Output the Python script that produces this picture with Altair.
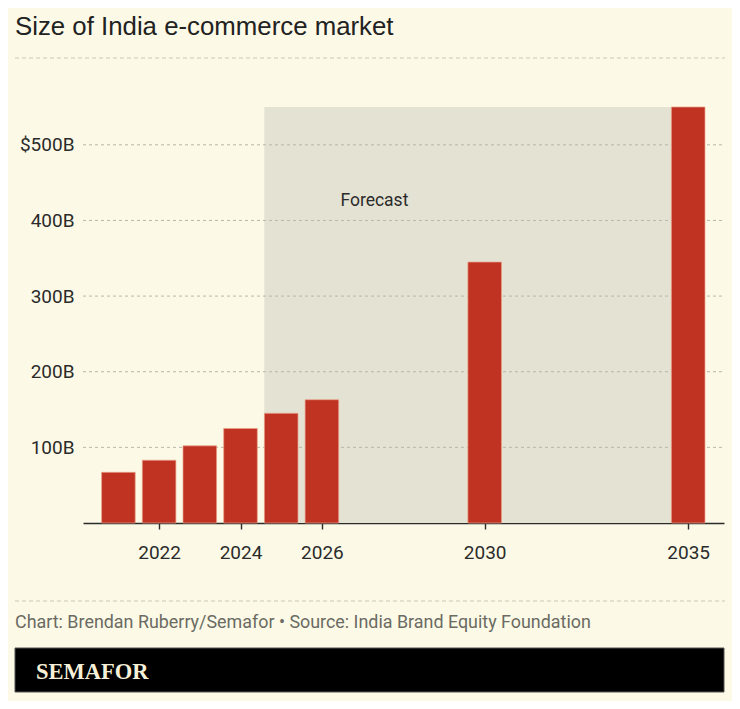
import altair as alt
import pandas as pd

# ---- data ----
years = [2021, 2022, 2023, 2024, 2025, 2026, 2030, 2035]
values = [67, 83, 102, 125, 145, 163, 345, 550]  # billions USD
tick_years = [2022, 2024, 2026, 2030, 2035]
grid_values = [100, 200, 300, 400, 500]
forecast_start = 2024.585
forecast_end = 2034.585
forecast_top = 550

title_text = "Size of India e-commerce market"
source_text = "Chart: Brendan Ruberry/Semafor \u2022 Source: India Brand Equity Foundation"
brand_text = "SEMAFOR"
forecast_text = "Forecast"

BG = "#FCFAE6"
SHADE = "#E4E2D3"
BAR = "#C03322"
INK = "#2b2b2b"
GRID = "#b9b7aa"

W, H = 641, 416

bars_df = pd.DataFrame({"year": years, "value": values})
shade_df = pd.DataFrame({"year": [forecast_start], "x2": [forecast_end], "value": [0], "y2": [forecast_top]})
grid_df = pd.DataFrame({"value": grid_values})
ann_df = pd.DataFrame({"year": [2027.29], "value": [419], "t": [forecast_text]})

xscale = alt.Scale(domain=[2020.13, 2035.88], nice=False, zero=False, padding=0)
yscale = alt.Scale(domain=[0, 550], nice=False, padding=0)

xaxis = alt.Axis(values=tick_years, format="d", grid=False, domainColor=INK,
                 domainWidth=1.6, tickColor=INK, tickSize=6, tickWidth=1.4,
                 labelFont="Roboto", labelFontSize=19, labelColor=INK,
                 labelPadding=14, title=None)
yaxis = alt.Axis(values=grid_values, grid=False, ticks=False, domain=False,
                 labelExpr="datum.value == 500 ? '$500B' : datum.value + 'B'",
                 labelFont="Roboto", labelFontSize=19, labelColor=INK,
                 labelPadding=9, title=None)

X = lambda f: alt.X(f, scale=xscale, axis=xaxis)
Y = lambda f: alt.Y(f, scale=yscale, axis=yaxis)

shade = alt.Chart(shade_df).mark_rect(color=SHADE).encode(
    x=X("year:Q"), x2="x2:Q", y=Y("value:Q"), y2="y2:Q",
)

grid = alt.Chart(grid_df).mark_rule(color=GRID, strokeDash=[3, 3], strokeWidth=1).encode(
    y=Y("value:Q"), x=alt.value(0), x2=alt.value(W),
)

bars = alt.Chart(bars_df).mark_bar(color=BAR, size=33.6, stroke="#e9a08a", strokeWidth=0.7).encode(
    x=X("year:Q"), y=Y("value:Q"),
)

ann = alt.Chart(ann_df).mark_text(font="Roboto", fontSize=17.5, color=INK, align="center",
                                  baseline="alphabetic").encode(
    x=X("year:Q"), y=Y("value:Q"), text="t:N")

one = pd.DataFrame({"a": [0]})

title = alt.Chart(one).mark_text(text=title_text, font="Liberation Sans", fontSize=25.8,
                                 color="#222222", align="left", baseline="alphabetic").encode(
    x=alt.value(-68), y=alt.value(-72))

sep_top = alt.Chart(one).mark_rule(color="#c9c7b8", strokeDash=[4, 3], strokeWidth=1).encode(
    x=alt.value(-68), x2=alt.value(642), y=alt.value(-49))

sep_bot = alt.Chart(one).mark_rule(color="#c9c7b8", strokeDash=[4, 3], strokeWidth=1).encode(
    x=alt.value(-68), x2=alt.value(642), y=alt.value(494))

source = alt.Chart(one).mark_text(text=source_text, font="Roboto", fontSize=17.9,
                                  color="#6b6a63", align="left", baseline="alphabetic").encode(
    x=alt.value(-68), y=alt.value(521))

band = alt.Chart(one).mark_rect(color="#000000", stroke="#555555", strokeWidth=1).encode(
    x=alt.value(-68), x2=alt.value(641), y=alt.value(541), y2=alt.value(585))

brand = alt.Chart(one).mark_text(text=brand_text, font="Liberation Serif", fontSize=22.5,
                                 fontWeight="bold", color="#F6F0D8", align="left",
                                 baseline="alphabetic").encode(
    x=alt.value(-47), y=alt.value(572))

chart = alt.layer(shade, grid, bars, ann, title, sep_top, sep_bot, source, band, brand).properties(
    width=W, height=H, background=BG,
    autosize=alt.AutoSizeParams(type="none"),
    padding={"left": 75, "top": 99, "right": 8, "bottom": 178},
).configure_view(stroke=None)

chart.save("out.html", embed_options={"renderer": "svg", "actions": False})
